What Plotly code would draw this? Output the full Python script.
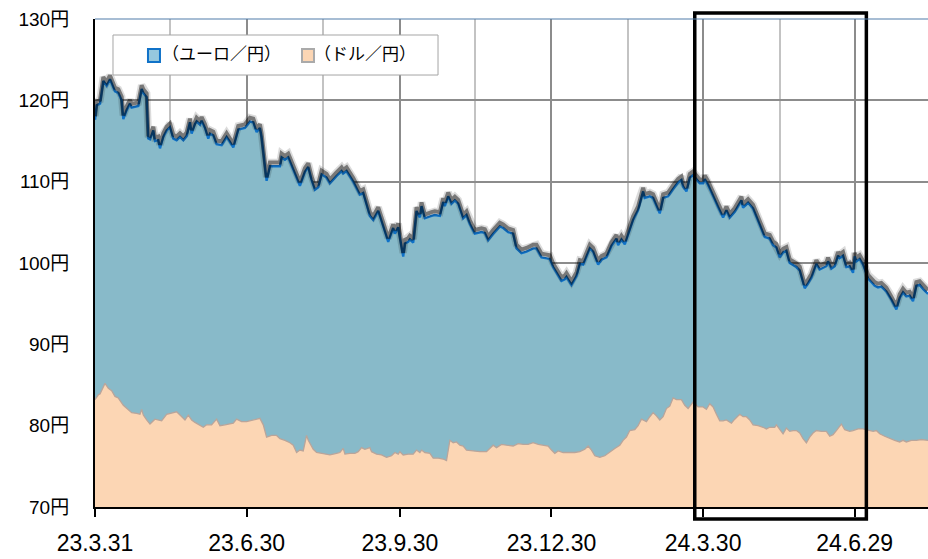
import pandas as pd
import plotly.graph_objects as go

base_date = "2023-03-31"

# ユーロ／円 : day offset from base_date, value (yen)
euro_day = [0, 1, 3, 5, 7, 9, 12, 14, 16, 17, 19, 21, 22, 26, 28, 29, 31, 32, 33, 35,
            36, 38, 39, 41, 43, 45, 47, 49, 51, 53, 55, 57, 58, 60, 61, 63, 64, 66, 68, 69,
            71, 73, 76, 79, 81, 83, 86, 90, 93, 95, 97, 99, 100, 103, 105, 111, 112, 114, 116, 119,
            121, 123, 126, 128, 130, 132, 134, 136, 139, 141, 145, 148, 149, 151, 155, 159, 161, 165, 167, 170,
            173, 176, 179, 180, 182, 185, 186, 188, 189, 191, 193, 195, 196, 198, 202, 204, 207, 209, 210, 212,
            214, 216, 218, 221, 223, 225, 228, 232, 234, 236, 239, 243, 245, 248, 251, 253, 256, 259, 263, 265,
            268, 273, 275, 278, 280, 282, 283, 286, 289, 291, 293, 297, 299, 302, 304, 307, 310, 313, 314, 316,
            318, 321, 323, 326, 329, 330, 333, 335, 337, 339, 341, 344, 347, 350, 352, 353, 355, 357, 359, 363,
            365, 366, 368, 370, 372, 374, 377, 379, 381, 384, 388, 389, 392, 395, 397, 399, 402, 405, 407, 409,
            411, 413, 415, 417, 421, 423, 426, 428, 430, 433, 435, 439, 440, 442, 444, 446, 447, 449, 451, 453,
            455, 456, 457, 459, 461, 464, 466, 468, 470, 472, 475, 478, 481, 483, 485, 487, 489, 491, 493, 495,
            497, 500]
euro_val = [117.6, 119.4, 119.6, 122.4, 121.8, 122.6, 121.1, 120.9, 120.0, 117.7, 118.8, 119.6, 119.1, 119.3, 121.4, 120.9, 120.4, 115.3, 115.2, 116.3,
            115.0, 115.1, 114.1, 115.5, 116.3, 116.7, 115.3, 115.1, 115.5, 115.1, 115.6, 117.3, 115.9, 117.1, 117.4, 117.0, 117.5, 116.6, 115.3, 115.9,
            115.7, 114.6, 114.5, 115.5, 114.9, 114.2, 116.4, 116.6, 117.4, 117.3, 116.1, 116.6, 115.5, 110.1, 111.9, 111.9, 113.0, 112.7, 113.0, 111.5,
            110.6, 109.5, 111.2, 111.8, 110.2, 109.0, 109.3, 110.9, 110.5, 109.8, 110.7, 111.3, 111.0, 111.3, 110.0, 108.4, 108.6, 105.8, 105.3, 106.4,
            104.5, 102.6, 104.3, 103.6, 104.4, 100.8, 102.4, 102.6, 102.9, 102.5, 106.4, 105.6, 107.0, 105.5, 105.8, 105.9, 105.8, 107.5, 107.0, 108.2,
            107.3, 107.7, 107.3, 105.5, 105.9, 104.8, 103.6, 103.8, 103.7, 102.8, 103.6, 104.5, 104.3, 103.8, 103.6, 101.8, 101.2, 101.4, 101.8, 101.8,
            100.7, 100.5, 99.5, 98.4, 97.8, 98.0, 98.3, 97.3, 98.4, 99.9, 99.8, 101.8, 101.4, 99.8, 100.4, 100.7, 102.1, 103.0, 102.2, 102.9,
            102.3, 104.1, 105.3, 106.5, 108.8, 108.0, 108.2, 108.0, 107.1, 106.1, 108.0, 108.2, 109.1, 109.9, 110.2, 109.4, 108.8, 110.5, 110.8, 109.8,
            109.8, 110.3, 109.6, 108.8, 107.8, 106.9, 105.6, 106.5, 105.6, 106.3, 107.7, 106.8, 107.4, 106.7, 105.7, 104.8, 103.2, 103.0, 102.2, 101.9,
            100.7, 101.3, 101.5, 100.0, 99.5, 99.1, 96.9, 97.5, 98.2, 99.9, 99.2, 99.6, 100.2, 99.3, 99.6, 100.9, 100.6, 100.9, 99.5, 99.6,
            98.8, 100.8, 100.2, 100.5, 99.8, 98.1, 97.7, 97.2, 97.0, 97.1, 96.5, 95.5, 94.3, 95.7, 96.4, 95.9, 96.0, 95.3, 97.2, 97.3,
            96.8, 96.2]

# ドル／円 : day offset from base_date, value (yen)
dollar_day = [0, 2, 3, 6, 8, 10, 12, 14, 17, 20, 22, 25, 27, 28, 29, 31, 33, 36, 38, 40,
              43, 45, 47, 49, 51, 54, 56, 58, 60, 63, 65, 67, 70, 73, 75, 78, 81, 83, 85, 88,
              91, 93, 96, 99, 101, 103, 106, 109, 111, 114, 117, 119, 121, 123, 125, 127, 128, 131, 133, 136,
              139, 141, 145, 147, 149, 150, 153, 156, 158, 160, 162, 165, 166, 169, 172, 175, 178, 180, 182, 183,
              185, 188, 191, 193, 195, 196, 198, 201, 203, 206, 209, 211, 213, 215, 217, 219, 221, 223, 227, 231,
              235, 237, 239, 241, 244, 247, 251, 254, 257, 260, 263, 266, 269, 272, 274, 276, 278, 281, 284, 288,
              291, 294, 296, 298, 300, 303, 306, 309, 312, 315, 317, 319, 321, 324, 326, 328, 331, 333, 335, 337,
              339, 341, 343, 345, 347, 349, 352, 354, 356, 359, 362, 365, 367, 369, 371, 373, 375, 377, 379, 382,
              384, 387, 389, 391, 393, 395, 398, 401, 403, 405, 408, 409, 411, 413, 415, 417, 419, 421, 423, 425,
              427, 429, 431, 433, 436, 439, 441, 443, 445, 448, 450, 453, 455, 458, 461, 465, 467, 469, 471, 474,
              477, 480, 483, 485, 487, 490, 493, 496, 500]
dollar_val = [83.2, 83.8, 83.9, 85.2, 84.6, 84.3, 83.6, 83.4, 82.5, 82.0, 81.6, 81.5, 81.4, 82.0, 81.3, 80.7, 80.2, 80.8, 80.7, 80.6,
              81.4, 81.5, 81.6, 81.7, 81.3, 80.7, 81.3, 80.7, 80.4, 80.0, 79.8, 80.1, 80.1, 80.8, 80.0, 80.1, 80.2, 80.3, 80.8, 80.5,
              80.5, 80.6, 80.8, 80.9, 80.1, 78.6, 78.8, 78.8, 78.4, 78.2, 77.9, 77.6, 76.7, 77.0, 76.9, 78.8, 78.2, 77.1, 76.7, 76.6,
              76.5, 76.4, 76.6, 76.7, 77.2, 76.5, 76.6, 76.6, 76.8, 77.3, 77.1, 77.3, 76.8, 76.5, 76.4, 76.1, 76.3, 76.7, 76.5, 76.8,
              76.4, 76.5, 76.5, 77.0, 76.7, 77.0, 76.7, 76.6, 76.0, 76.0, 75.9, 75.7, 78.2, 77.9, 78.0, 77.6, 77.5, 77.0, 76.9, 76.8,
              76.8, 77.2, 77.6, 77.3, 77.7, 77.6, 77.5, 77.8, 77.7, 77.7, 77.9, 77.7, 77.6, 77.5, 77.0, 76.6, 76.9, 76.7, 76.7, 76.7,
              76.8, 77.1, 77.5, 77.0, 76.3, 76.1, 76.3, 76.8, 77.2, 77.6, 78.2, 78.6, 79.4, 79.5, 80.0, 80.8, 80.5, 81.1, 81.6, 81.2,
              80.7, 81.1, 82.1, 82.4, 83.4, 83.2, 83.2, 82.5, 82.1, 82.9, 82.3, 82.3, 82.0, 82.7, 82.3, 81.4, 80.6, 80.6, 80.7, 80.3,
              80.8, 81.4, 81.1, 81.1, 80.7, 80.1, 80.0, 79.8, 79.6, 79.8, 79.8, 80.1, 79.5, 79.0, 79.7, 79.3, 79.4, 79.4, 79.1, 78.4,
              77.9, 78.6, 79.1, 79.4, 79.3, 79.3, 78.7, 78.9, 79.4, 80.2, 79.5, 79.3, 79.4, 79.6, 79.6, 79.4, 79.3, 79.4, 79.0, 78.7,
              78.4, 78.2, 78.0, 78.2, 78.0, 78.2, 78.2, 78.3, 78.2]

tick_dates = ["2023-03-31", "2023-06-30", "2023-09-30", "2023-12-30", "2024-03-30", "2024-06-29"]
tick_labels = ["23.3.31", "23.6.30", "23.9.30", "23.12.30", "24.3.30", "24.6.29"]
minor_dates = ["2023-05-15", "2023-08-15", "2023-11-14", "2024-02-14", "2024-05-15"]
x_range = ["2023-03-31", "2024-08-12"]
y_ticks = [70, 80, 90, 100, 110, 120, 130]
y_labels = [f"{v}円" for v in y_ticks]
y_range = [70, 130]
highlight = ["2024-03-25", "2024-07-06"]

series_names = ["（ユーロ／円）", "（ドル／円）"]

start = pd.Timestamp(base_date)
euro_x = start + pd.to_timedelta(euro_day, unit="D")
dollar_x = start + pd.to_timedelta(dollar_day, unit="D")

EURO_FILL = "rgb(136,186,201)"
EURO_LINE = "rgb(16,114,200)"
USD_FILL = "rgb(252,214,180)"
USD_LINE = "rgb(185,165,155)"

fig = go.Figure()
fig.add_trace(go.Scatter(x=euro_x, y=euro_val, fill="tozeroy", fillcolor=EURO_FILL,
                         mode="lines", line=dict(width=0, color=EURO_FILL), showlegend=False,
                         name=series_names[0], hoverinfo="skip"))
# soft shadow drawn on a slightly shifted twin axis (lifts the shadow a few px)
shadow_shift = 0.45
fig.add_trace(go.Scatter(x=euro_x, y=euro_val, mode="lines", yaxis="y2",
                         line=dict(width=7.5, color="rgba(0,0,0,0.14)"), showlegend=False, hoverinfo="skip"))
fig.add_trace(go.Scatter(x=euro_x, y=euro_val, mode="lines", yaxis="y2",
                         line=dict(width=4, color="rgba(0,0,0,0.45)"), showlegend=False, hoverinfo="skip"))
fig.add_trace(go.Scatter(x=euro_x, y=euro_val, mode="lines", name=series_names[0],
                         line=dict(width=2.4, color=EURO_LINE), showlegend=False))
fig.add_trace(go.Scatter(x=dollar_x, y=dollar_val, fill="tozeroy", fillcolor=USD_FILL,
                         mode="lines", line=dict(width=1.3, color=USD_LINE), name=series_names[1],
                         showlegend=False))

# highlight frame and top border
fig.add_shape(type="rect", xref="x", yref="paper", x0=highlight[0], x1=highlight[1],
              y0=-0.0246, y1=1.0123, line=dict(color="black", width=3.5), fillcolor="rgba(0,0,0,0)",
              layer="above")
fig.add_shape(type="line", xref="paper", yref="paper", x0=0, x1=1, y0=1, y1=1,
              line=dict(color="rgb(80,125,170)", width=1.2), layer="above")

# legend box (drawn manually to match the reference layout)
fig.add_shape(type="rect", xref="paper", yref="paper", x0=0.0216, x1=0.4118, y0=0.8852, y1=0.9672,
              line=dict(color="rgb(165,165,165)", width=1), fillcolor="white", layer="above")
fig.add_shape(type="rect", xref="paper", yref="paper", x0=0.0636, x1=0.0780, y0=0.9119, y1=0.9385,
              line=dict(color=EURO_LINE, width=2), fillcolor="rgb(150,200,222)", layer="above")
fig.add_shape(type="rect", xref="paper", yref="paper", x0=0.2485, x1=0.2629, y0=0.9119, y1=0.9385,
              line=dict(color="rgb(170,170,170)", width=2), fillcolor=USD_FILL, layer="above")
for name, lx in zip(series_names, [0.0780, 0.2605]):
    fig.add_annotation(text=name, xref="paper", yref="paper", x=lx, y=0.9314,
                       xanchor="left", yanchor="middle", showarrow=False,
                       font=dict(family="Noto Sans CJK JP", size=17, color="black"))

fig.update_layout(
    width=928, height=559,
    margin=dict(l=95, r=0, t=19, b=52),
    paper_bgcolor="white", plot_bgcolor="white",
    font=dict(family="Liberation Sans, Noto Sans CJK JP", color="black"),
    showlegend=False,
    xaxis=dict(type="date", range=x_range, tickmode="array", tickvals=tick_dates,
               ticktext=tick_labels, showgrid=True, gridcolor="rgb(140,140,140)", gridwidth=1.5,
               showline=True, linecolor="black", linewidth=2, ticks="outside", ticklen=8,
               tickwidth=1.5, tickcolor="black", automargin=False,
               tickfont=dict(family="Liberation Sans", size=23),
               ticklabelstandoff=6,
               minor=dict(tickvals=minor_dates, showgrid=True, gridcolor="rgb(195,195,195)",
                          gridwidth=1.5, ticks=""),
               zeroline=False),
    yaxis=dict(range=y_range, tickmode="array", tickvals=y_ticks, ticktext=y_labels,
               showgrid=True, gridcolor="rgb(140,140,140)", gridwidth=1.5,
               showline=True, linecolor="black", linewidth=2, ticks="", automargin=False,
               tickfont=dict(family="Liberation Sans, Noto Sans CJK JP", size=19),
               ticklabelstandoff=20, zeroline=False),
    yaxis2=dict(range=[y_range[0] - shadow_shift, y_range[1] - shadow_shift], overlaying="y",
                visible=False, showgrid=False),
)

# remove the page's default body margin so the 928x559 figure fills the window exactly
fig.write_html("out.html", config={"displayModeBar": False},
               post_script="document.body.style.margin='0px';document.body.style.overflow='hidden';")
